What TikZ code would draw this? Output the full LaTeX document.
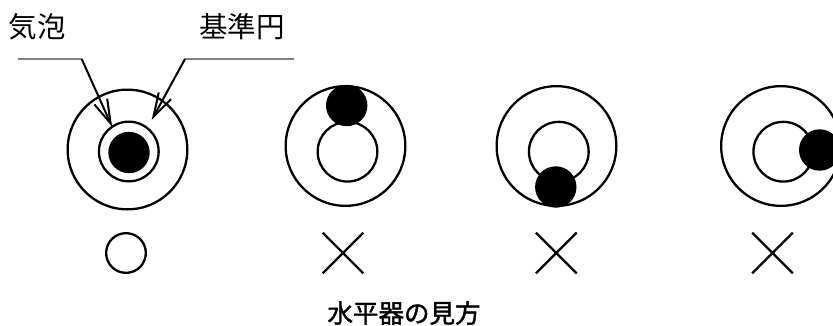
\documentclass[tikz,border=0pt]{standalone}
\usepackage{fontspec}
\newfontfamily\cjk{Noto Sans CJK JP}
\usetikzlibrary{arrows.meta,shapes.misc}
\begin{document}
\begin{tikzpicture}[x=1pt,y=1pt,
  ring/.style={circle,draw,line width=2.3pt,inner sep=0pt,outer sep=0pt},
  outerring/.style={ring,minimum size=119.7pt},
  innerring/.style={ring,minimum size=59.7pt},
  bubble/.style={circle,fill=black,draw=none,inner sep=0pt,minimum size=41.4pt},
  okmark/.style={ring,minimum size=39.7pt},
  ngmark/.style={cross out,draw,line width=2.3pt,inner sep=0pt,minimum size=38.4pt},
  lbl/.style={font=\cjk\fontsize{28.5}{30}\selectfont,inner sep=0pt},
  captiontext/.style={font=\cjk\fontsize{25.5}{27}\selectfont,inner sep=0pt},
  leader/.style={draw=black!50,line width=1.1pt},
  pointer/.style={line width=2pt,-{Straight Barb[length=24pt,width=14pt]}}]
\useasboundingbox (0,0) rectangle (833,325);
\clip (0,0) rectangle (833,325);
% circles
\node[outerring] (o1) at (127.5,175.5) {};
\node[innerring] (i1) at (128.8,173.5) {};
\node[bubble]    (b1) at (129,172.5) {};
\node[outerring] (o2) at (345.5,179) {};
\node[innerring] (i2) at (347.5,173.3) {};
\node[bubble]    (b2) at (346.7,219.5) {};
\node[outerring] (o3) at (556.5,179) {};
\node[innerring] (i3) at (558.8,173.3) {};
\node[bubble]    (b3) at (555.8,138) {};
\node[outerring] (o4) at (781,179) {};
\node[innerring] (i4) at (783.3,173.3) {};
\node[bubble]    (b4) at (819.7,175) {};
% marks
\node[okmark] (m1) at (126,72) {};
\node[ngmark] (m2) at (343,72) {};
\node[ngmark] (m3) at (556.3,72) {};
\node[ngmark] (m4) at (772.5,72) {};
% labels
\node[lbl] (l1) at (37.5,298.7) {気泡};
\node[lbl] (l2) at (242,298.7) {基準円};
\node[captiontext] (t) at (404,12) {\addfontfeatures{FakeBold=1.5}水平器の見方};
% leaders
\coordinate (a1s) at (18.3,266);
\coordinate (a1k) at (81.7,266);
\coordinate (a2k) at (185,266);
\coordinate (a2s) at (294,266);
\coordinate (a2e) at (151.7,205);
\draw[leader] (a1s) -- (a1k);
\draw[leader] (a2k) -- (a2s);
\draw[pointer] (a1k) -- (i1.124);
\draw[pointer] (a2k) -- (a2e);
\end{tikzpicture}
\end{document}
